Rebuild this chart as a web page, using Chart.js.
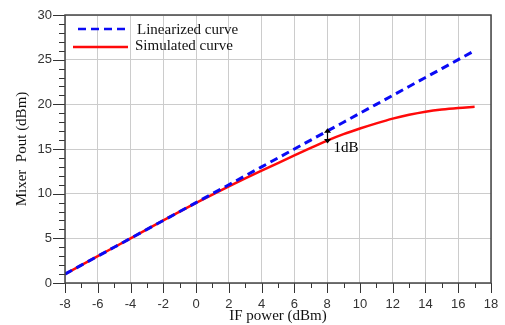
<!DOCTYPE html>
<html>
<head>
<meta charset="utf-8">
<script src="https://cdn.jsdelivr.net/npm/chart.js@4"></script>
<style>
  html, body { margin: 0; padding: 0; background: #fff; }
  #wrap { width: 505px; height: 325px; }
</style>
</head>
<body>
<div id="wrap"><canvas id="chart"></canvas></div>
<script>
// IF input power (dBm)
const ifPower = [-8, -7, -6, -5, -4, -3, -2, -1, 0, 1, 2, 3, 4, 5, 6, 7, 8, 9, 10, 11, 12, 13, 14, 15, 16, 17];
// ideal small-signal gain extrapolation
const linearized = [1, 2, 3, 4, 5, 6, 7, 8, 9, 10, 11, 12, 13, 14, 15, 16, 17, 18, 19, 20, 21, 22, 23, 24, 25, 26];
// simulated mixer output
const simulated = [1, 2, 3, 4, 5, 6, 7, 7.99, 8.96, 9.9, 10.81, 11.7, 12.57, 13.43, 14.28, 15.12, 15.94, 16.66, 17.29, 17.87, 18.4, 18.83, 19.18, 19.43, 19.6, 19.72];

const xTickLabels = [-8, -6, -4, -2, 0, 2, 4, 6, 8, 10, 12, 14, 16, 18];
const yTickLabels = [0, 5, 10, 15, 20, 25, 30];

const markAt = 8;           // where the 1 dB compression is marked
const markText = '1dB';

const serif = '"Liberation Serif", "Times New Roman", serif';
const sans = '"Liberation Sans", Arial, sans-serif';

const toPoints = ys => ifPower.map((x, i) => ({ x, y: ys[i] }));

// frame, minor/major tick marks, legend and the 1 dB marker
const decorations = {
  id: 'decorations',
  afterDraw(chart) {
    const { ctx, chartArea: a, scales: { x, y } } = chart;
    ctx.save();

    // tick marks
    ctx.strokeStyle = '#333';
    ctx.lineWidth = 1;
    ctx.beginPath();
    for (let v = -8; v <= 18; v++) {
      const px = Math.round(x.getPixelForValue(v)) + 0.5;
      const len = v % 2 === 0 ? 10 : 5;
      ctx.moveTo(px, a.bottom);
      ctx.lineTo(px, a.bottom + len);
    }
    for (let v = 0; v <= 30; v++) {
      const py = Math.round(y.getPixelForValue(v)) + 0.5;
      const len = v % 5 === 0 ? 12 : 6;
      ctx.moveTo(a.left, py);
      ctx.lineTo(a.left - len, py);
    }
    ctx.stroke();

    // frame
    ctx.strokeStyle = '#444';
    ctx.lineWidth = 1.5;
    ctx.strokeRect(a.left, a.top, a.right - a.left, a.bottom - a.top);

    // legend
    const ds = chart.data.datasets;
    ctx.font = '15px ' + serif;
    ctx.fillStyle = '#111';
    ctx.textBaseline = 'middle';
    ctx.lineWidth = 2.5;
    ctx.strokeStyle = ds[0].borderColor;
    ctx.setLineDash(ds[0].borderDash);
    ctx.beginPath();
    ctx.moveTo(a.left + 13, a.top + 14);
    ctx.lineTo(a.left + 63, a.top + 14);
    ctx.stroke();
    ctx.fillText(ds[0].label, a.left + 72, a.top + 15);
    ctx.setLineDash([]);
    ctx.strokeStyle = ds[1].borderColor;
    ctx.beginPath();
    ctx.moveTo(a.left + 8, a.top + 32);
    ctx.lineTo(a.left + 63, a.top + 32);
    ctx.stroke();
    ctx.fillText(ds[1].label, a.left + 70, a.top + 31);

    // 1 dB compression marker (double arrow between the two curves)
    const i = ifPower.indexOf(markAt);
    const mx = Math.round(x.getPixelForValue(markAt)) + 0.5;
    const yTop = y.getPixelForValue(linearized[i]) - 3;
    const yBot = y.getPixelForValue(simulated[i]) + 3;
    ctx.strokeStyle = '#000';
    ctx.fillStyle = '#000';
    ctx.lineWidth = 1.2;
    ctx.beginPath();
    ctx.moveTo(mx, yTop + 3);
    ctx.lineTo(mx, yBot - 3);
    ctx.stroke();
    ctx.beginPath();
    ctx.moveTo(mx, yTop);
    ctx.lineTo(mx - 3.5, yTop + 4.5);
    ctx.lineTo(mx + 3.5, yTop + 4.5);
    ctx.closePath();
    ctx.moveTo(mx, yBot);
    ctx.lineTo(mx - 3.5, yBot - 4.5);
    ctx.lineTo(mx + 3.5, yBot - 4.5);
    ctx.closePath();
    ctx.fill();
    ctx.font = '15px ' + serif;
    ctx.textAlign = 'left';
    ctx.fillText(markText, mx + 6, yBot + 4);

    ctx.restore();
  }
};

new Chart(document.getElementById('chart'), {
  type: 'line',
  data: {
    datasets: [
      {
        label: 'Linearized curve',
        data: toPoints(linearized),
        borderColor: '#0a0af5',
        borderWidth: 3,
        borderDash: [8, 5],
        pointRadius: 0,
        fill: false,
        order: 0,
      },
      {
        label: 'Simulated curve',
        data: toPoints(simulated),
        borderColor: '#ff0a0a',
        borderWidth: 2.5,
        pointRadius: 0,
        cubicInterpolationMode: 'monotone',
        fill: false,
        order: 1,
      },
    ],
  },
  options: {
    responsive: true,
    maintainAspectRatio: false,
    animation: false,
    layout: { padding: { left: 0, right: 14, top: 15, bottom: 0 } },
    plugins: {
      legend: { display: false },
      tooltip: { enabled: false },
    },
    scales: {
      x: {
        type: 'linear',
        min: -8,
        max: 18,
        afterFit: s => { s.height = 42; },
        afterBuildTicks: s => { s.ticks = xTickLabels.map(v => ({ value: v })); },
        // invisible tick marks only push the labels out; real marks come from the plugin
        grid: { color: '#cccccc', lineWidth: 1, drawTicks: true, tickLength: 14, tickColor: 'rgba(0,0,0,0)' },
        border: { display: false },
        ticks: {
          autoSkip: false,
          maxRotation: 0,
          padding: 0,
          color: '#333',
          font: { family: sans, size: 13 },
        },
        title: {
          display: true,
          text: 'IF power (dBm)',
          color: '#111',
          font: { family: serif, size: 15 },
          padding: { top: 0, bottom: 0 },
        },
      },
      y: {
        min: 0,
        max: 30,
        afterFit: s => { s.width = 65; },
        afterBuildTicks: s => { s.ticks = yTickLabels.map(v => ({ value: v })); },
        grid: { color: '#cccccc', lineWidth: 1, drawTicks: true, tickLength: 13, tickColor: 'rgba(0,0,0,0)' },
        border: { display: false },
        ticks: {
          autoSkip: false,
          padding: 0,
          color: '#333',
          font: { family: sans, size: 13 },
        },
        title: {
          display: true,
          text: 'Mixer  Pout (dBm)',
          color: '#111',
          font: { family: serif, size: 15 },
          padding: { top: 13, bottom: 0 },
        },
      },
    },
  },
  plugins: [decorations],
});
</script>
</body>
</html>
